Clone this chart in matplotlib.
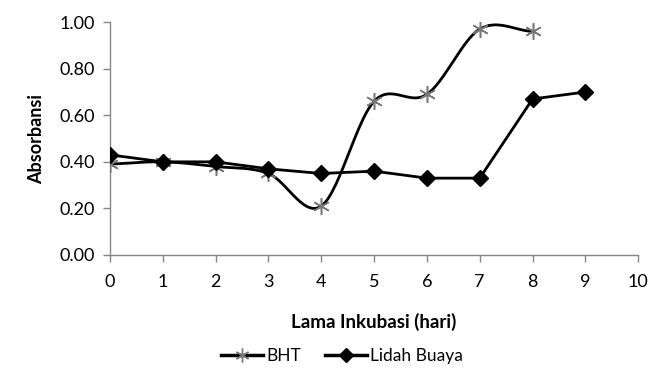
import numpy as np
import matplotlib
matplotlib.use("Agg")
from matplotlib import pyplot as plt

# Data
days_bht = [0, 1, 2, 3, 4, 5, 6, 7, 8]
bht = [0.39, 0.40, 0.38, 0.35, 0.21, 0.66, 0.69, 0.97, 0.96]
days_lidah = [0, 1, 2, 3, 4, 5, 6, 7, 8, 9]
lidah_buaya = [0.43, 0.40, 0.40, 0.37, 0.35, 0.36, 0.33, 0.33, 0.67, 0.70]

x_ticks = list(range(0, 11))
y_ticks = [0.0, 0.2, 0.4, 0.6, 0.8, 1.0]


def smooth(xs, ys, n=30):
    """Excel-like smoothed line (Catmull-Rom through the points)."""
    xs, ys = np.asarray(xs, float), np.asarray(ys, float)
    px = np.concatenate([[2 * xs[0] - xs[1]], xs, [2 * xs[-1] - xs[-2]]])
    py = np.concatenate([[2 * ys[0] - ys[1]], ys, [2 * ys[-1] - ys[-2]]])
    out_x, out_y = [], []
    t = np.linspace(0, 1, n)
    for i in range(1, len(px) - 2):
        for p, out in ((px, out_x), (py, out_y)):
            p0, p1, p2, p3 = p[i - 1], p[i], p[i + 1], p[i + 2]
            out.extend(0.5 * (2 * p1 + (-p0 + p2) * t
                              + (2 * p0 - 5 * p1 + 4 * p2 - p3) * t ** 2
                              + (-p0 + 3 * p1 - 3 * p2 + p3) * t ** 3))
    return out_x, out_y


plt.rcParams["font.family"] = ["Lato", "DejaVu Sans"]
fig = plt.figure(figsize=(6.58, 3.69), dpi=100)
ax = fig.add_axes([0.167, 0.309, 0.803, 0.631])

sx, sy = smooth(days_bht, bht)
ax.plot(sx, sy, color="black", lw=2.0, zorder=2)
ax.plot(days_bht, bht, ls="none", marker=(6, 2, 0), ms=12, mec="#777777",
        mew=1.1, zorder=3)
ax.plot(days_lidah, lidah_buaya, color="black", lw=2.0, marker="D", ms=8.5,
        mfc="black", mec="black", zorder=3)

# legend proxies
h1, = ax.plot([], [], color="black", lw=2.5, marker=(6, 2, 0), ms=10,
              mec="#777777", mew=1.0)
h2, = ax.plot([], [], color="black", lw=2.5, marker="D", ms=7, mfc="black")
fig.legend([h1, h2], ["BHT", "Lidah Buaya"], loc="center",
           bbox_to_anchor=(0.52, 0.035), ncol=2, frameon=False, fontsize=12.5,
           handlelength=2.4, columnspacing=1.4, handletextpad=0.2)

ax.set_xlim(0, 10)
ax.set_ylim(0, 1.0)
ax.set_xticks(x_ticks)
ax.set_yticks(y_ticks)
ax.set_yticklabels([f"{v:.2f}" for v in y_ticks])
ax.tick_params(axis="both", labelsize=13, color="#868686", length=5,
               width=1, direction="out")
ax.tick_params(axis="x", pad=9)
ax.tick_params(axis="y", pad=6)
for side in ("top", "right"):
    ax.spines[side].set_visible(False)
for side in ("left", "bottom"):
    ax.spines[side].set_color("#868686")
    ax.spines[side].set_linewidth(1.0)

ax.set_xlabel("Lama Inkubasi (hari)", fontsize=13.5, fontweight="bold",
              labelpad=16)
ax.set_ylabel("Absorbansi", fontsize=13, fontweight="bold", labelpad=10)
ax.patch.set_visible(False)

fig.savefig("out.png", dpi=100)
